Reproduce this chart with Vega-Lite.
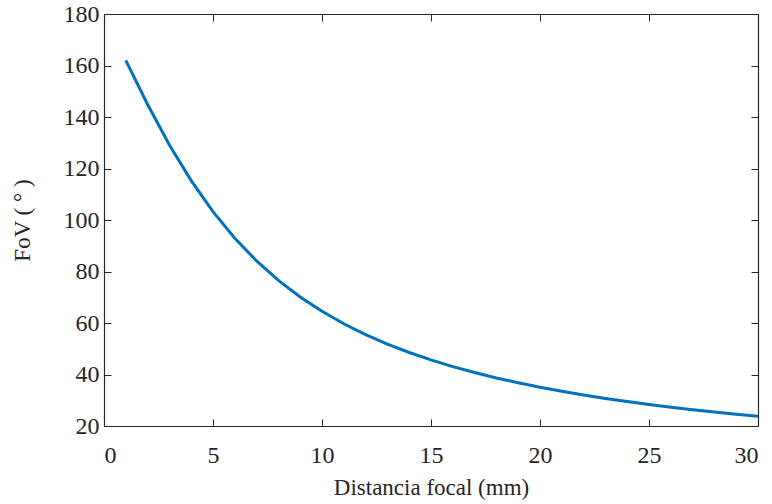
{
  "$schema": "https://vega.github.io/schema/vega-lite/v6.json",
  "width": 654,
  "height": 412,
  "autosize": "none",
  "padding": {"left": 104, "top": 14, "right": 14, "bottom": 78},
  "background": "white",
  "config": {
    "view": {"stroke": null},
    "font": "Liberation Serif",
    "axis": {
      "domainColor": "#262626",
      "domainWidth": 1.2,
      "tickColor": "#262626",
      "tickSize": -7,
      "tickWidth": 1,
      "labelColor": "#262626",
      "titleColor": "#262626",
      "labelFont": "Liberation Serif",
      "titleFont": "Liberation Serif",
      "labelFontSize": 24,
      "titleFontSize": 23,
      "titleFontWeight": "normal",
      "grid": false
    }
  },
  "data": {"values": [
    {"f": 1, "fov": 162.0},
    {"f": 2, "fov": 144.85},
    {"f": 3, "fov": 129.16},
    {"f": 4, "fov": 115.28},
    {"f": 5, "fov": 103.27},
    {"f": 6, "fov": 92.92},
    {"f": 7, "fov": 84.11},
    {"f": 8, "fov": 76.57},
    {"f": 9, "fov": 70.10},
    {"f": 10, "fov": 64.53},
    {"f": 11, "fov": 59.70},
    {"f": 12, "fov": 55.50},
    {"f": 13, "fov": 51.81},
    {"f": 14, "fov": 48.55},
    {"f": 15, "fov": 45.66},
    {"f": 16, "fov": 43.07},
    {"f": 17, "fov": 40.75},
    {"f": 18, "fov": 38.66},
    {"f": 19, "fov": 36.77},
    {"f": 20, "fov": 35.04},
    {"f": 21, "fov": 33.47},
    {"f": 22, "fov": 32.03},
    {"f": 23, "fov": 30.70},
    {"f": 24, "fov": 29.48},
    {"f": 25, "fov": 28.35},
    {"f": 26, "fov": 27.30},
    {"f": 27, "fov": 26.32},
    {"f": 28, "fov": 25.41},
    {"f": 29, "fov": 24.56},
    {"f": 30, "fov": 23.77}
  ]},
  "layer": [
    {
      "mark": {"type": "line", "color": "#0072BD", "strokeWidth": 3, "clip": true},
      "encoding": {
        "x": {"field": "f", "type": "quantitative", "scale": {"domain": [0, 30], "nice": false},
              "axis": {"title": "Distancia focal (mm)", "values": [0,5,10,15,20,25,30], "labelPadding": 24, "titlePadding": 9}},
        "y": {"field": "fov", "type": "quantitative", "scale": {"domain": [20, 180], "nice": false},
              "axis": {"title": "FoV ( ° )", "values": [20,40,60,80,100,120,140,160,180], "labelPadding": 12, "titlePadding": 29}}
      }
    },
    {
      "mark": {"type": "line", "opacity": 0},
      "encoding": {
        "x": {"field": "f", "type": "quantitative", "scale": {"domain": [0, 30], "nice": false},
              "axis": {"orient": "top", "title": null, "labels": false, "values": [0,5,10,15,20,25,30]}},
        "y": {"field": "fov", "type": "quantitative", "scale": {"domain": [20, 180], "nice": false},
              "axis": {"orient": "right", "title": null, "labels": false, "values": [20,40,60,80,100,120,140,160,180]}}
      }
    }
  ],
  "resolve": {"axis": {"x": "independent", "y": "independent"}}
}
